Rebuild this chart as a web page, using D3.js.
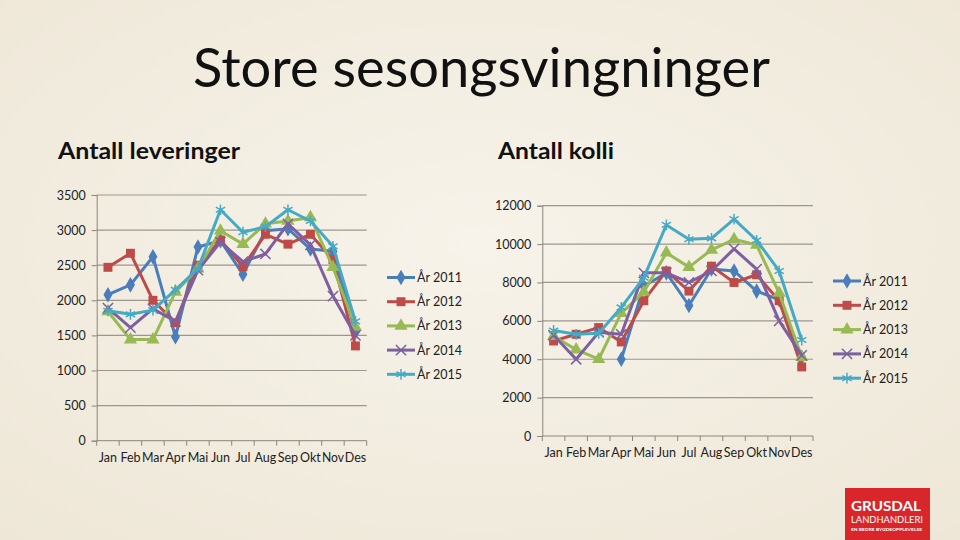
<!DOCTYPE html>
<html>
<head>
<meta charset="utf-8">
<script src="https://cdn.jsdelivr.net/npm/d3@7"></script>
<style>
  body { margin: 0; background: #f3eee2; }
  svg { display: block; font-family: Lato, "Open Sans", sans-serif; }
</style>
</head>
<body>
<script>
// categories and series
let months = ['Jan', 'Feb', 'Mar', 'Apr', 'Mai', 'Jun', 'Jul', 'Aug', 'Sep', 'Okt', 'Nov', 'Des'];
let years = ['År 2011', 'År 2012', 'År 2013', 'År 2014', 'År 2015'];

// Antall leveringer
let lev2011 = [2080, 2220, 2620, 1480, 2760, 2850, 2370, 2990, 3020, 2730, 2700, 1550];
let lev2012 = [2470, 2670, 2000, 1680, 2500, 2860, 2480, 2940, 2800, 2940, 2580, 1350];
let lev2013 = [1840, 1440, 1440, 2120, 2450, 2990, 2800, 3090, 3130, 3180, 2470, 1620];
let lev2014 = [1890, 1610, 1880, 1700, 2430, 2830, 2550, 2660, 3090, 2790, 2060, 1500];
let lev2015 = [1850, 1800, 1860, 2150, 2450, 3290, 2970, 3050, 3290, 3130, 2770, 1700];

// Antall kolli (2011 starts in April)
let kol2011 = [null, null, null, 4000, 7800, 8500, 6800, 8700, 8600, 7550, 7100, 4100];
let kol2012 = [4950, 5300, 5650, 4900, 7050, 8600, 7550, 8850, 8000, 8400, 7050, 3600];
let kol2013 = [5200, 4500, 4000, 6400, 7500, 9550, 8800, 9700, 10250, 9950, 7450, 4100];
let kol2014 = [5250, 4000, 5400, 5300, 8500, 8500, 8000, 8600, 9750, 8700, 6000, 4200];
let kol2015 = [5500, 5300, 5350, 6700, 8250, 11000, 10250, 10300, 11300, 10200, 8600, 5000];

let levTicks = [0, 500, 1000, 1500, 2000, 2500, 3000, 3500];
let kolTicks = [0, 2000, 4000, 6000, 8000, 10000, 12000];

let colors = ['#4a7ebb', '#be4b48', '#98b954', '#7d60a0', '#46aac5'];
let symbols = [d3.symbolDiamond, d3.symbolSquare, d3.symbolTriangle, d3.symbolX, d3.symbolAsterisk];
let symSizes = [70, 80, 75, 70, 80];

let width = 960, height = 540;

let svg = d3.select('body').append('svg')
    .attr('width', width)
    .attr('height', height);

// paper background
let defs = svg.append('defs');
let grad = defs.append('radialGradient').attr('id', 'paper')
    .attr('cx', '50%').attr('cy', '45%').attr('r', '75%');
grad.append('stop').attr('offset', '0%').attr('stop-color', '#f7f3ea');
grad.append('stop').attr('offset', '100%').attr('stop-color', '#eee7d7');
svg.append('rect').attr('width', width).attr('height', height).attr('fill', 'url(#paper)');

// titles
svg.append('text')
    .attr('x', 193).attr('y', 87)
    .attr('textLength', 577).attr('lengthAdjust', 'spacingAndGlyphs')
    .style('font-size', '54px')
    .style('fill', '#111')
    .text('Store sesongsvingninger');

svg.append('text')
    .attr('x', 58).attr('y', 159)
    .attr('textLength', 182).attr('lengthAdjust', 'spacingAndGlyphs')
    .style('font-size', '23px').style('font-weight', 'bold')
    .style('fill', '#111')
    .text('Antall leveringer');

svg.append('text')
    .attr('x', 498).attr('y', 159)
    .attr('textLength', 116).attr('lengthAdjust', 'spacingAndGlyphs')
    .style('font-size', '23px').style('font-weight', 'bold')
    .style('fill', '#111')
    .text('Antall kolli');

function drawChart(opts) {
    let xScale = d3.scaleBand()
        .domain(months)
        .range([opts.left, opts.right])
        .padding(0);

    let yScale = d3.scaleLinear()
        .domain([0, opts.max])
        .range([opts.bottom, opts.top]);

    let g = svg.append('g');

    // gridlines
    g.append('g')
        .selectAll('line')
        .data(opts.ticks.filter(t => t > 0))
        .enter()
        .append('line')
        .attr('x1', opts.left).attr('x2', opts.right)
        .attr('y1', d => yScale(d)).attr('y2', d => yScale(d))
        .attr('stroke', '#9c978e')
        .attr('stroke-width', 1.2);

    // y axis
    let yAxis = g.append('g')
        .attr('transform', `translate(${opts.left},0)`)
        .call(d3.axisLeft(yScale).tickValues(opts.ticks).tickSize(5).tickPadding(6).tickFormat(d3.format('d')));
    yAxis.select('.domain').attr('stroke', '#8a857c');
    yAxis.selectAll('.tick line').attr('stroke', '#8a857c');
    yAxis.selectAll('text').style('font-size', '12.5px').style('fill', '#222')
        .style('font-family', 'Lato, sans-serif');

    // x axis with ticks between categories
    let xAxis = g.append('g')
        .attr('transform', `translate(0,${opts.bottom})`);
    xAxis.append('line')
        .attr('x1', opts.left).attr('x2', opts.right)
        .attr('stroke', '#8a857c');
    let edges = months.map(m => xScale(m)).concat([opts.right]);
    xAxis.selectAll('line.tk')
        .data(edges)
        .enter()
        .append('line')
        .attr('class', 'tk')
        .attr('x1', d => d).attr('x2', d => d)
        .attr('y1', 0).attr('y2', 5)
        .attr('stroke', '#8a857c');
    xAxis.selectAll('text')
        .data(months)
        .enter()
        .append('text')
        .attr('x', d => xScale(d) + xScale.bandwidth() / 2)
        .attr('y', opts.labelY - opts.bottom)
        .attr('text-anchor', 'middle')
        .style('font-size', '12.5px')
        .style('fill', '#222')
        .style('font-family', 'Lato, sans-serif')
        .text(d => d)
        .each(function() {
            // squeeze only the labels that are wider than their band
            let w = this.getComputedTextLength();
            if (w > xScale.bandwidth() - 0.5) {
                d3.select(this).attr('textLength', xScale.bandwidth() - 0.5)
                    .attr('lengthAdjust', 'spacingAndGlyphs');
            }
        });

    let line = d3.line()
        .defined(d => d.v !== null)
        .x(d => xScale(d.m) + xScale.bandwidth() / 2)
        .y(d => yScale(d.v));

    opts.series.forEach(function(values, i) {
        let pts = values.map((v, j) => ({ m: months[j], v: v }));
        g.append('path')
            .datum(pts)
            .attr('d', line)
            .attr('fill', 'none')
            .attr('stroke', colors[i])
            .attr('stroke-width', 3)
            .attr('stroke-linejoin', 'round');
        let isStroke = i >= 3;
        g.append('g')
            .selectAll('path')
            .data(pts.filter(d => d.v !== null))
            .enter()
            .append('path')
            .attr('transform', d => `translate(${xScale(d.m) + xScale.bandwidth() / 2},${yScale(d.v)})`)
            .attr('d', d3.symbol().type(symbols[i]).size(symSizes[i]))
            .attr('fill', isStroke ? 'none' : colors[i])
            .attr('stroke', colors[i])
            .attr('stroke-width', isStroke ? 1.5 : 0);
    });

    // legend
    let legend = svg.append('g');
    years.forEach(function(name, i) {
        let y = opts.legendY + i * opts.legendStep;
        legend.append('line')
            .attr('x1', opts.legendX).attr('x2', opts.legendX + 28)
            .attr('y1', y).attr('y2', y)
            .attr('stroke', colors[i]).attr('stroke-width', 3);
        let isStroke = i >= 3;
        legend.append('path')
            .attr('transform', `translate(${opts.legendX + 14},${y})`)
            .attr('d', d3.symbol().type(symbols[i]).size(symSizes[i]))
            .attr('fill', isStroke ? 'none' : colors[i])
            .attr('stroke', colors[i])
            .attr('stroke-width', isStroke ? 1.5 : 0);
        legend.append('text')
            .attr('x', opts.legendX + 30).attr('y', y + 4.5)
            .style('font-size', '12.5px')
            .style('fill', '#222')
            .style('font-family', 'Lato, sans-serif')
            .text(name);
    });
}

drawChart({
    left: 96.7, right: 366.7, top: 195, bottom: 440.7,
    max: 3500, ticks: levTicks, labelY: 462,
    series: [lev2011, lev2012, lev2013, lev2014, lev2015],
    legendX: 387, legendY: 277.5, legendStep: 24.2
});

drawChart({
    left: 542.3, right: 813, top: 205.7, bottom: 436,
    max: 12000, ticks: kolTicks, labelY: 457,
    series: [kol2011, kol2012, kol2013, kol2014, kol2015],
    legendX: 833, legendY: 281, legendStep: 24.3
});

// logo
let logo = svg.append('g');
logo.append('rect')
    .attr('x', 845).attr('y', 488).attr('width', 85).attr('height', 52)
    .attr('fill', '#d8262b');
logo.append('text')
    .attr('x', 851).attr('y', 511)
    .attr('textLength', 70).attr('lengthAdjust', 'spacingAndGlyphs')
    .style('font-size', '13px').style('font-weight', 'bold')
    .style('fill', '#fff')
    .text('GRUSDAL');
logo.append('text')
    .attr('x', 851).attr('y', 523)
    .attr('textLength', 72).attr('lengthAdjust', 'spacingAndGlyphs')
    .style('font-size', '10px')
    .style('fill', '#fff')
    .text('LANDHANDLERI');
logo.append('text')
    .attr('x', 851).attr('y', 530.5)
    .attr('textLength', 71).attr('lengthAdjust', 'spacingAndGlyphs')
    .style('font-size', '4.5px').style('font-weight', 'bold')
    .style('fill', '#fff')
    .text('EN BEDRE BYGDEOPPLEVELSE');
</script>
</body>
</html>
